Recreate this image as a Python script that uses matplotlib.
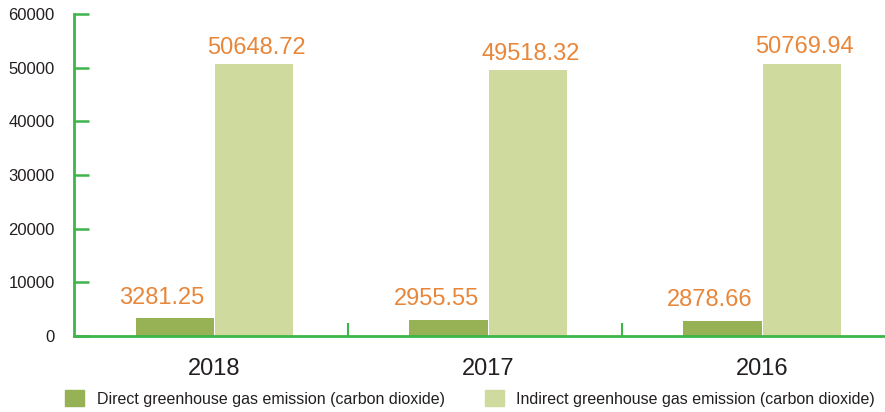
import matplotlib
matplotlib.use("Agg")
import matplotlib.pyplot as plt
import numpy as np
from matplotlib.patches import Patch

years = ["2018", "2017", "2016"]
direct = [3281.25, 2955.55, 2878.66]
indirect = [50648.72, 49518.32, 50769.94]
direct_labels = ["3281.25", "2955.55", "2878.66"]
indirect_labels = ["50648.72", "49518.32", "50769.94"]
yticks = [0, 10000, 20000, 30000, 40000, 50000, 60000]
legend_labels = ["Direct greenhouse gas emission (carbon dioxide)",
                 "Indirect greenhouse gas emission (carbon dioxide)"]

plt.rcParams['font.family'] = ['Liberation Sans', 'DejaVu Sans']

C_DIRECT = "#97b254"
C_INDIRECT = "#cfdb9e"
C_AXIS = "#3db54a"
C_LABEL = "#e8863a"
C_TEXT = "#231f20"

fig = plt.figure(figsize=(8.85, 4.12), dpi=100)
ax = fig.add_axes([74/885, 76/412, 811/885, 322/412])

x = np.arange(len(years))
w = 0.285
off = 0.145
shift = 0.012
ax.bar(x - off + shift, direct, width=w, color=C_DIRECT, zorder=2)
ax.bar(x + off + shift, indirect, width=w, color=C_INDIRECT, zorder=2)

for xi, v, s in zip(x, direct, direct_labels):
    ax.annotate(s, (xi - off + shift, v), xytext=(-9, 15), textcoords="offset points",
                ha="center", va="center", fontsize=17, color=C_LABEL)
for xi, v, s in zip(x, indirect, indirect_labels):
    ax.annotate(s, (xi + off + shift, v), xytext=(2, 12), textcoords="offset points",
                ha="center", va="center", fontsize=17, color=C_LABEL)

ax.set_xlim(-0.5, 2.46)
ax.set_ylim(0, 60000)
ax.set_yticks(yticks)
ax.set_yticklabels([str(t) for t in yticks], fontsize=12, color=C_TEXT)
ax.tick_params(axis="y", direction="in", length=10.5, width=1.8, color=C_AXIS, pad=14)

# x: category labels without ticks, boundary ticks upward
ax.set_xticks(x + shift)
ax.set_xticklabels(years, fontsize=17, color=C_TEXT)
ax.tick_params(axis="x", length=0, pad=16)
ax.set_xticks([0.5, 1.5], minor=True)
ax.tick_params(axis="x", which="minor", direction="in", length=9.5, width=1.5, color=C_AXIS)

for sp in ["top", "right"]:
    ax.spines[sp].set_visible(False)
for sp in ["left", "bottom"]:
    ax.spines[sp].set_color(C_AXIS)
    ax.spines[sp].set_linewidth(2)

handles = [Patch(color=C_DIRECT), Patch(color=C_INDIRECT)]
fig.legend(handles, legend_labels, loc="lower left", bbox_to_anchor=(51/885, -0.022),
           ncol=2, frameon=False, fontsize=11.5, handlelength=1.15, handleheight=1.15,
           handletextpad=0.8, columnspacing=2.55, labelcolor=C_TEXT)

fig.savefig("out.png", dpi=100)
